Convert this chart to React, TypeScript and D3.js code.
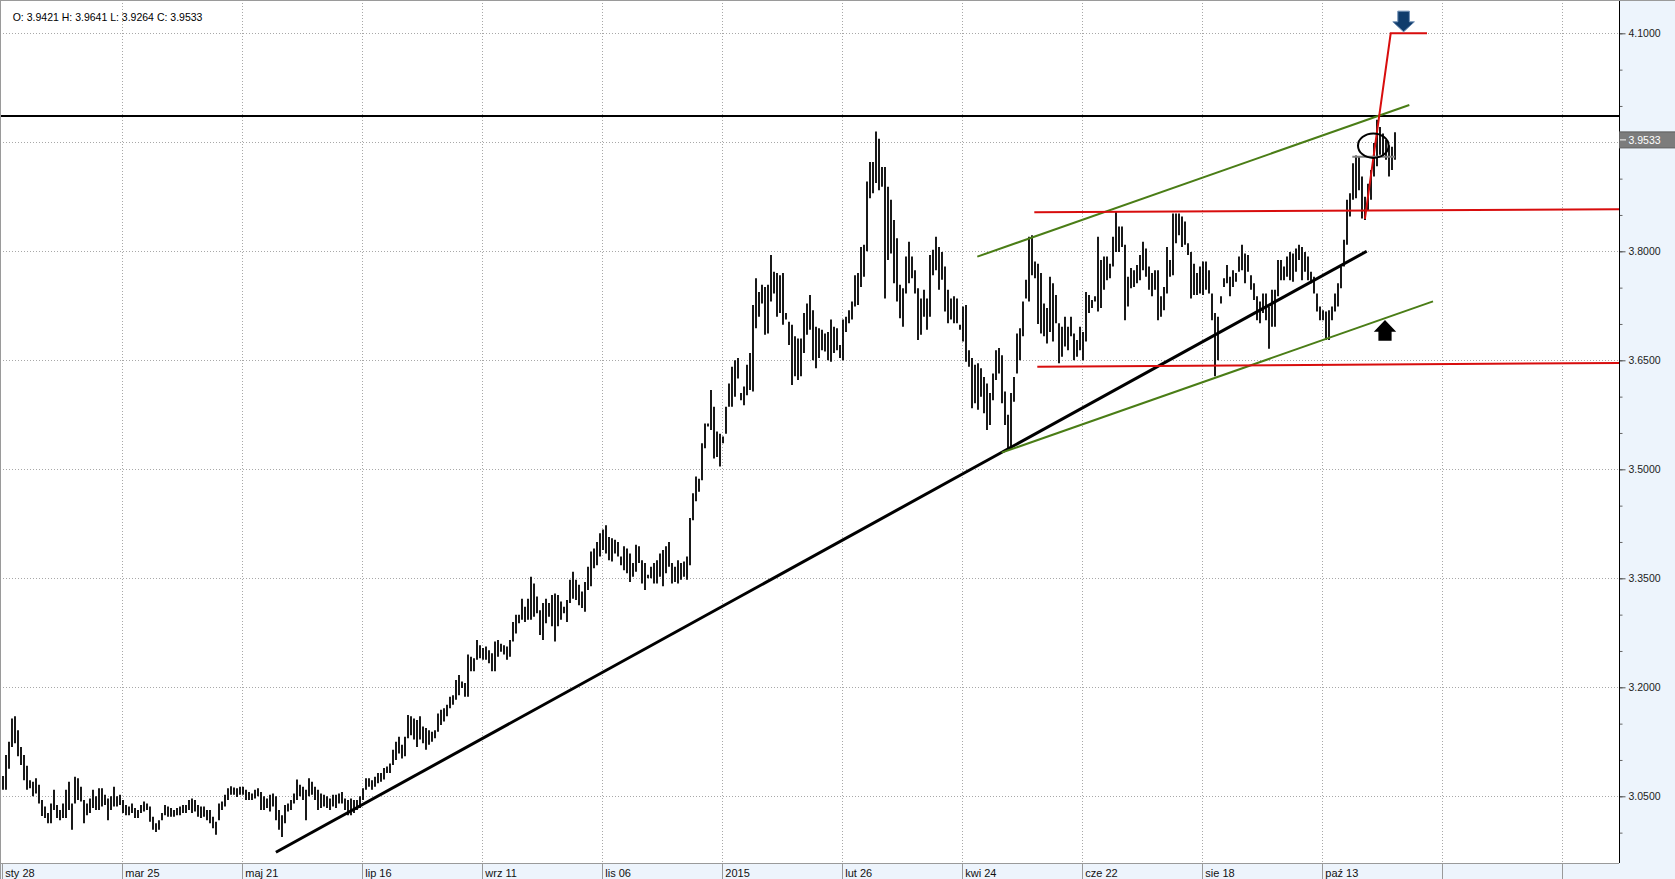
import React, { useEffect, useRef } from 'react';
import * as d3 from 'd3';

const WIDTH = 1675;
const HEIGHT = 879;

// bottom axis labels, one every 40 bars
const dateLabels = ['sty 28', 'mar 25', 'maj 21', 'lip 16', 'wrz 11', 'lis 06', '2015', 'lut 26', 'kwi 24', 'cze 22', 'sie 18', 'paź 13', '', ''];
const BARS_PER_LABEL = 40;

// right axis
const priceLabels = [4.1, 3.95, 3.8, 3.65, 3.5, 3.35, 3.2, 3.05];
const priceMinorTicks = [4.1, 4.05, 4.0, 3.95, 3.9, 3.85, 3.8, 3.75, 3.7, 3.65, 3.6, 3.55, 3.5, 3.45, 3.4, 3.35, 3.3, 3.25, 3.2, 3.15, 3.1, 3.05, 3.0];

const lastQuote = { o: 3.9421, h: 3.9641, l: 3.9264, c: 3.9533 };

// daily highs / lows
const highs = [
  3.078, 3.107, 3.125, 3.157, 3.160, 3.141, 3.118, 3.107, 3.092, 3.072,
  3.070, 3.075, 3.066, 3.045, 3.036, 3.027, 3.040, 3.059, 3.038, 3.031,
  3.040, 3.059, 3.070, 3.040, 3.077, 3.075, 3.063, 3.045, 3.040, 3.047,
  3.059, 3.050, 3.061, 3.061, 3.052, 3.047, 3.050, 3.063, 3.050, 3.052,
  3.045, 3.038, 3.036, 3.040, 3.034, 3.031, 3.038, 3.043, 3.040, 3.036,
  3.022, 3.013, 3.017, 3.027, 3.038, 3.036, 3.034, 3.031, 3.034, 3.036,
  3.038, 3.038, 3.045, 3.047, 3.045, 3.038, 3.036, 3.036, 3.031, 3.031,
  3.022, 3.015, 3.040, 3.043, 3.052, 3.061, 3.064, 3.062, 3.061, 3.063,
  3.063, 3.059, 3.056, 3.054, 3.059, 3.061, 3.056, 3.050, 3.047, 3.052,
  3.054, 3.050, 3.031, 3.024, 3.038, 3.040, 3.045, 3.054, 3.073, 3.066,
  3.063, 3.059, 3.075, 3.070, 3.063, 3.059, 3.054, 3.052, 3.050, 3.047,
  3.052, 3.052, 3.054, 3.056, 3.047, 3.045, 3.047, 3.045, 3.045, 3.050,
  3.061, 3.075, 3.075, 3.072, 3.077, 3.082, 3.082, 3.089, 3.091, 3.095,
  3.114, 3.125, 3.132, 3.121, 3.132, 3.162, 3.160, 3.157, 3.155, 3.160,
  3.146, 3.144, 3.141, 3.139, 3.141, 3.164, 3.169, 3.171, 3.176, 3.187,
  3.189, 3.210, 3.217, 3.208, 3.206, 3.245, 3.242, 3.240, 3.265, 3.258,
  3.254, 3.256, 3.251, 3.247, 3.263, 3.265, 3.260, 3.258, 3.256, 3.265,
  3.290, 3.300, 3.300, 3.322, 3.311, 3.322, 3.352, 3.343, 3.325, 3.306,
  3.316, 3.322, 3.316, 3.327, 3.329, 3.327, 3.318, 3.311, 3.320, 3.348,
  3.359, 3.348, 3.341, 3.332, 3.345, 3.366, 3.387, 3.391, 3.400, 3.412,
  3.417, 3.423, 3.407, 3.405, 3.403, 3.400, 3.380, 3.394, 3.391, 3.384,
  3.371, 3.396, 3.394, 3.375, 3.371, 3.355, 3.366, 3.371, 3.375, 3.384,
  3.389, 3.394, 3.400, 3.371, 3.366, 3.375, 3.371, 3.373, 3.380, 3.433,
  3.467, 3.490, 3.487, 3.536, 3.563, 3.563, 3.609, 3.586, 3.552, 3.549,
  3.545, 3.586, 3.618, 3.641, 3.650, 3.653, 3.605, 3.614, 3.644, 3.660,
  3.726, 3.763, 3.744, 3.754, 3.751, 3.754, 3.795, 3.772, 3.770, 3.767,
  3.770, 3.715, 3.703, 3.699, 3.683, 3.680, 3.680, 3.715, 3.728, 3.740,
  3.719, 3.696, 3.694, 3.692, 3.687, 3.689, 3.706, 3.696, 3.694, 3.671,
  3.706, 3.710, 3.719, 3.731, 3.767, 3.770, 3.806, 3.809, 3.896, 3.923,
  3.923, 3.965, 3.955, 3.916, 3.916, 3.889, 3.871, 3.843, 3.818, 3.754,
  3.749, 3.793, 3.813, 3.793, 3.774, 3.749, 3.735, 3.747, 3.735, 3.795,
  3.802, 3.820, 3.806, 3.799, 3.779, 3.747, 3.735, 3.738, 3.735, 3.699,
  3.724, 3.726, 3.664, 3.653, 3.644, 3.646, 3.639, 3.627, 3.618, 3.605,
  3.632, 3.664, 3.667, 3.657, 3.607, 3.575, 3.605, 3.627, 3.687, 3.694,
  3.731, 3.761, 3.820, 3.822, 3.786, 3.783, 3.770, 3.728, 3.722, 3.765,
  3.756, 3.740, 3.701, 3.696, 3.710, 3.696, 3.710, 3.687, 3.678, 3.696,
  3.689, 3.744, 3.740, 3.733, 3.738, 3.820, 3.788, 3.793, 3.793, 3.783,
  3.820, 3.855, 3.834, 3.834, 3.809, 3.765, 3.777, 3.774, 3.781, 3.795,
  3.813, 3.804, 3.779, 3.770, 3.774, 3.774, 3.738, 3.751, 3.806, 3.788,
  3.852, 3.852, 3.852, 3.848, 3.841, 3.811, 3.799, 3.783, 3.770, 3.779,
  3.786, 3.786, 3.774, 3.742, 3.715, 3.710, 3.738, 3.763, 3.781, 3.765,
  3.774, 3.770, 3.793, 3.809, 3.797, 3.795, 3.767, 3.756, 3.738, 3.731,
  3.742, 3.742, 3.724, 3.747, 3.747, 3.788, 3.788, 3.779, 3.793, 3.799,
  3.797, 3.804, 3.809, 3.806, 3.799, 3.793, 3.772, 3.765, 3.742, 3.724,
  3.719, 3.717, 3.719, 3.724, 3.742, 3.756, 3.779, 3.816, 3.871, 3.880,
  3.921, 3.932, 3.930, 3.903, 3.875, 3.893, 3.912, 3.949, 3.981, 3.971,
  3.962, 3.953, 3.946, 3.944, 3.964,
];

const lows = [
  3.059, 3.059, 3.088, 3.118, 3.123, 3.105, 3.093, 3.072, 3.059, 3.061,
  3.050, 3.054, 3.040, 3.023, 3.020, 3.013, 3.013, 3.031, 3.020, 3.017,
  3.020, 3.020, 3.031, 3.004, 3.040, 3.045, 3.043, 3.013, 3.024, 3.027,
  3.034, 3.031, 3.031, 3.036, 3.038, 3.017, 3.031, 3.036, 3.036, 3.038,
  3.027, 3.024, 3.024, 3.027, 3.020, 3.020, 3.027, 3.029, 3.031, 3.015,
  3.004, 3.001, 3.004, 3.017, 3.024, 3.022, 3.022, 3.022, 3.024, 3.024,
  3.027, 3.027, 3.031, 3.027, 3.029, 3.022, 3.020, 3.022, 3.017, 3.013,
  3.006, 2.997, 3.017, 3.031, 3.036, 3.045, 3.052, 3.052, 3.049, 3.052,
  3.052, 3.045, 3.045, 3.045, 3.047, 3.050, 3.031, 3.031, 3.034, 3.029,
  3.036, 3.017, 3.004, 2.994, 3.013, 3.029, 3.031, 3.040, 3.045, 3.050,
  3.045, 3.017, 3.050, 3.052, 3.045, 3.031, 3.034, 3.036, 3.034, 3.031,
  3.036, 3.034, 3.040, 3.040, 3.031, 3.024, 3.024, 3.027, 3.031, 3.034,
  3.045, 3.059, 3.063, 3.059, 3.063, 3.068, 3.070, 3.073, 3.082, 3.082,
  3.093, 3.100, 3.109, 3.102, 3.105, 3.130, 3.134, 3.128, 3.118, 3.128,
  3.123, 3.114, 3.121, 3.125, 3.130, 3.139, 3.148, 3.153, 3.160, 3.171,
  3.176, 3.183, 3.189, 3.199, 3.187, 3.187, 3.222, 3.222, 3.238, 3.240,
  3.238, 3.238, 3.233, 3.222, 3.222, 3.242, 3.249, 3.245, 3.238, 3.242,
  3.263, 3.274, 3.288, 3.293, 3.290, 3.293, 3.293, 3.297, 3.302, 3.272,
  3.265, 3.288, 3.297, 3.284, 3.263, 3.284, 3.293, 3.302, 3.290, 3.316,
  3.322, 3.320, 3.313, 3.309, 3.304, 3.334, 3.339, 3.364, 3.368, 3.380,
  3.389, 3.384, 3.375, 3.373, 3.384, 3.380, 3.368, 3.361, 3.357, 3.345,
  3.352, 3.359, 3.371, 3.343, 3.334, 3.350, 3.350, 3.343, 3.343, 3.352,
  3.339, 3.357, 3.366, 3.343, 3.345, 3.343, 3.348, 3.352, 3.348, 3.368,
  3.430, 3.456, 3.469, 3.485, 3.529, 3.559, 3.554, 3.515, 3.517, 3.504,
  3.536, 3.549, 3.586, 3.586, 3.600, 3.625, 3.595, 3.588, 3.602, 3.609,
  3.607, 3.694, 3.710, 3.728, 3.685, 3.687, 3.731, 3.742, 3.710, 3.715,
  3.699, 3.706, 3.671, 3.616, 3.628, 3.623, 3.628, 3.660, 3.685, 3.692,
  3.650, 3.639, 3.653, 3.664, 3.662, 3.650, 3.648, 3.660, 3.664, 3.653,
  3.650, 3.689, 3.701, 3.706, 3.724, 3.726, 3.751, 3.765, 3.800, 3.873,
  3.880, 3.894, 3.884, 3.889, 3.735, 3.788, 3.797, 3.756, 3.731, 3.708,
  3.696, 3.742, 3.756, 3.763, 3.742, 3.678, 3.685, 3.710, 3.692, 3.710,
  3.767, 3.774, 3.747, 3.761, 3.717, 3.701, 3.706, 3.701, 3.701, 3.692,
  3.676, 3.648, 3.641, 3.584, 3.591, 3.582, 3.600, 3.577, 3.554, 3.561,
  3.595, 3.623, 3.632, 3.591, 3.561, 3.527, 3.527, 3.593, 3.632, 3.650,
  3.683, 3.735, 3.731, 3.767, 3.763, 3.700, 3.687, 3.683, 3.673, 3.689,
  3.676, 3.701, 3.646, 3.655, 3.669, 3.664, 3.683, 3.650, 3.655, 3.664,
  3.650, 3.676, 3.715, 3.722, 3.731, 3.717, 3.722, 3.747, 3.760, 3.763,
  3.779, 3.799, 3.799, 3.806, 3.705, 3.724, 3.749, 3.751, 3.756, 3.760,
  3.774, 3.765, 3.747, 3.738, 3.747, 3.705, 3.710, 3.719, 3.742, 3.765,
  3.767, 3.811, 3.822, 3.806, 3.809, 3.795, 3.735, 3.740, 3.740, 3.742,
  3.740, 3.747, 3.742, 3.705, 3.628, 3.650, 3.728, 3.751, 3.756, 3.738,
  3.751, 3.758, 3.772, 3.774, 3.756, 3.772, 3.747, 3.733, 3.705, 3.701,
  3.715, 3.705, 3.666, 3.696, 3.696, 3.738, 3.760, 3.760, 3.765, 3.760,
  3.758, 3.772, 3.788, 3.760, 3.772, 3.760, 3.756, 3.742, 3.717, 3.705,
  3.705, 3.678, 3.678, 3.705, 3.717, 3.724, 3.749, 3.779, 3.809, 3.848,
  3.871, 3.873, 3.884, 3.845, 3.843, 3.857, 3.871, 3.903, 3.917, 3.933,
  3.930, 3.926, 3.903, 3.912, 3.926,
];

// drawn annotations, in [bar index, price]
const supportTrend = [[91.2, 2.973], [454.8, 3.8]];
const channelUpper = [[325.0, 3.7926], [469.0, 4.0013]];
const channelLower = [[333.1, 3.5229], [476.9, 3.7311]];
const rangeTop = [[344.0, 3.8537], [539, 3.8578]];
const rangeBottom = [[345.0, 3.6412], [539, 3.6463]];
const targetMove = [[454.2, 3.8445], [462.8, 4.1], [474.9, 4.1]];
const resistanceLevel = 3.9862;
const consolidation = [[450.0, 3.9302], [464.2, 3.9302]];
const circleCenter = [457.0, 3.9453];
const downArrowTip = [467.1, 4.102];
const upArrowTip = [460.9, 3.7055];

export default function App() {
  const svgRef = useRef<SVGSVGElement>(null);

  useEffect(() => {
    if (!svgRef.current) return;
    const svg = d3.select(svgRef.current);
    svg.selectAll('*').remove();

    const plotRight = 1619;
    const plotBottom = 863;
    const panelFill = '#edf4fc';
    const gridColor = '#a8a8a8';
    const font = '"Liberation Sans", Arial, sans-serif';

    const xScale = d3.scaleLinear().domain([0, BARS_PER_LABEL]).range([2.3, 122.3]);
    const yScale = d3.scaleLinear().domain([3.05, 4.1]).range([796.3, 33.3]);
    const crisp = (v: number) => Math.round(v) + 0.5;

    // backgrounds
    svg.append('rect').attr('width', WIDTH).attr('height', HEIGHT).attr('fill', '#fff');
    svg.append('rect')
      .attr('x', plotRight).attr('y', 0)
      .attr('width', WIDTH - plotRight).attr('height', HEIGHT)
      .attr('fill', panelFill);
    svg.append('rect')
      .attr('x', 0).attr('y', plotBottom)
      .attr('width', plotRight).attr('height', HEIGHT - plotBottom)
      .attr('fill', panelFill);

    svg.append('defs').append('clipPath').attr('id', 'plot-clip')
      .append('rect').attr('x', 0).attr('y', 0).attr('width', plotRight).attr('height', plotBottom);

    const plot = svg.append('g').attr('clip-path', 'url(#plot-clip)');

    // dotted grid
    const labelIdx = dateLabels.map((_, i) => i * BARS_PER_LABEL);
    plot.append('g').selectAll('line')
      .data(labelIdx.slice(1))
      .join('line')
      .attr('x1', d => crisp(xScale(d))).attr('x2', d => crisp(xScale(d)))
      .attr('y1', 0).attr('y2', plotBottom)
      .attr('stroke', gridColor).attr('stroke-dasharray', '1,2')
      .attr('shape-rendering', 'crispEdges');
    plot.append('g').selectAll('line')
      .data(priceLabels)
      .join('line')
      .attr('x1', 0).attr('x2', plotRight)
      .attr('y1', d => crisp(yScale(d))).attr('y2', d => crisp(yScale(d)))
      .attr('stroke', gridColor).attr('stroke-dasharray', '1,2')
      .attr('shape-rendering', 'crispEdges');

    // HL bars
    plot.append('g').selectAll('line')
      .data(highs.map((h, i) => ({ i, h, l: lows[i] })))
      .join('line')
      .attr('x1', d => Math.round(xScale(d.i)) + 1).attr('x2', d => Math.round(xScale(d.i)) + 1)
      .attr('y1', d => yScale(d.h)).attr('y2', d => yScale(d.l))
      .attr('stroke', '#000').attr('stroke-width', 1.8);

    const line = d3.line<number[]>().x(d => xScale(d[0])).y(d => yScale(d[1]));

    // horizontal resistance
    plot.append('line')
      .attr('x1', 0).attr('x2', plotRight)
      .attr('y1', yScale(resistanceLevel)).attr('y2', yScale(resistanceLevel))
      .attr('stroke', '#000').attr('stroke-width', 2);

    plot.append('path').datum(supportTrend).attr('d', line)
      .attr('fill', 'none').attr('stroke', '#000').attr('stroke-width', 3);

    const green = '#4a7d16';
    const red = '#d80d0d';
    [channelUpper, channelLower].forEach(pts => {
      plot.append('path').datum(pts).attr('d', line)
        .attr('fill', 'none').attr('stroke', green).attr('stroke-width', 2);
    });
    [rangeTop, rangeBottom].forEach(pts => {
      plot.append('path').datum(pts).attr('d', line)
        .attr('fill', 'none').attr('stroke', red).attr('stroke-width', 2);
    });
    plot.append('path').datum(targetMove).attr('d', line)
      .attr('fill', 'none').attr('stroke', red).attr('stroke-width', 2);

    plot.append('path').datum(consolidation).attr('d', line)
      .attr('fill', 'none').attr('stroke', '#808080').attr('stroke-width', 2);

    plot.append('ellipse')
      .attr('cx', xScale(circleCenter[0])).attr('cy', yScale(circleCenter[1]))
      .attr('rx', 15.3).attr('ry', 12.2)
      .attr('fill', 'none').attr('stroke', '#000').attr('stroke-width', 2);

    // arrows
    const dx = xScale(downArrowTip[0]);
    const dy = yScale(downArrowTip[1]);
    plot.append('path')
      .attr('d', `M${dx - 5.8},${dy - 20.7} L${dx + 5.8},${dy - 20.7} L${dx + 5.8},${dy - 10} L${dx + 10.8},${dy - 10} L${dx},${dy} L${dx - 10.8},${dy - 10} L${dx - 5.8},${dy - 10} Z`)
      .attr('fill', '#0f3c6c').attr('stroke', '#6f8fb5').attr('stroke-width', 1);

    const ux = xScale(upArrowTip[0]);
    const uy = yScale(upArrowTip[1]);
    plot.append('path')
      .attr('d', `M${ux},${uy} L${ux + 11.2},${uy + 11.7} L${ux + 6.6},${uy + 11.7} L${ux + 6.6},${uy + 20.7} L${ux - 6.6},${uy + 20.7} L${ux - 6.6},${uy + 11.7} L${ux - 11.2},${uy + 11.7} Z`)
      .attr('fill', '#000');

    // right price axis
    const minorAxis = d3.axisRight(yScale).tickValues(priceMinorTicks).tickSize(3).tickFormat(() => '');
    const majorAxis = d3.axisRight(yScale).tickValues(priceLabels).tickSize(6).tickPadding(3)
      .tickFormat(d => d3.format('.4f')(d as number));

    const yAxisMinor = svg.append('g').attr('transform', `translate(${plotRight + 0.5},0)`).call(minorAxis);
    yAxisMinor.select('.domain').remove();
    yAxisMinor.selectAll('line').attr('stroke', '#666');

    const yAxis = svg.append('g').attr('transform', `translate(${plotRight + 0.5},0)`).call(majorAxis);
    yAxis.select('.domain').remove();
    yAxis.selectAll('line').attr('stroke', '#555');
    yAxis.selectAll('text')
      .attr('font-family', font).attr('font-size', 10.5).attr('fill', '#222');

    svg.append('line')
      .attr('x1', plotRight + 0.5).attr('x2', plotRight + 0.5)
      .attr('y1', 0).attr('y2', plotBottom)
      .attr('stroke', '#000').attr('stroke-width', 1);

    // last price marker
    const cy = yScale(lastQuote.c);
    svg.append('rect')
      .attr('x', plotRight + 0.5).attr('y', cy - 8)
      .attr('width', WIDTH - plotRight).attr('height', 16)
      .attr('fill', '#7c7c7c').attr('stroke', '#5e5e5e').attr('stroke-width', 1);
    svg.append('line')
      .attr('x1', plotRight + 1).attr('x2', plotRight + 7)
      .attr('y1', cy).attr('y2', cy)
      .attr('stroke', '#fff');
    svg.append('text')
      .attr('x', plotRight + 9.5).attr('y', cy).attr('dy', '0.35em')
      .attr('font-family', font).attr('font-size', 10.5).attr('fill', '#fff')
      .text(d3.format('.4f')(lastQuote.c));

    // bottom date axis
    svg.append('line')
      .attr('x1', 0).attr('x2', plotRight)
      .attr('y1', plotBottom + 0.5).attr('y2', plotBottom + 0.5)
      .attr('stroke', '#9a9a9a');
    const xAxis = svg.append('g');
    xAxis.selectAll('line')
      .data(labelIdx)
      .join('line')
      .attr('x1', d => crisp(xScale(d))).attr('x2', d => crisp(xScale(d)))
      .attr('y1', plotBottom).attr('y2', HEIGHT)
      .attr('stroke', '#9a9a9a');
    xAxis.selectAll('text')
      .data(dateLabels)
      .join('text')
      .attr('x', (_, i) => xScale(labelIdx[i]) + 3)
      .attr('y', 877)
      .attr('font-family', font).attr('font-size', 11).attr('fill', '#111')
      .text(d => d);

    // frame
    svg.append('line').attr('x1', 0).attr('x2', WIDTH).attr('y1', 0.5).attr('y2', 0.5)
      .attr('stroke', '#9a9a9a');
    svg.append('line').attr('x1', 0.5).attr('x2', 0.5).attr('y1', 0).attr('y2', HEIGHT)
      .attr('stroke', '#9a9a9a');

    // OHLC readout
    const f = d3.format('.4f');
    svg.append('text')
      .attr('x', 12.7).attr('y', 20.7)
      .attr('font-family', font).attr('font-size', 10.5).attr('fill', '#000')
      .text(`O: ${f(lastQuote.o)} H: ${f(lastQuote.h)} L: ${f(lastQuote.l)} C: ${f(lastQuote.c)}`);
  }, []);

  return (
    <svg
      ref={svgRef}
      width={WIDTH}
      height={HEIGHT}
      style={{ position: 'absolute', left: 0, top: 0, display: 'block' }}
    />
  );
}
